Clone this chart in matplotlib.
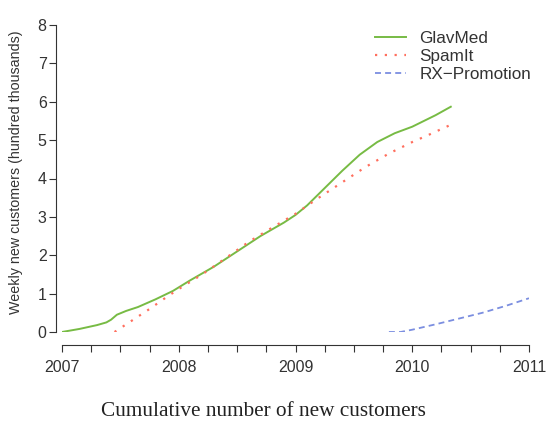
import matplotlib
matplotlib.use("Agg")
import matplotlib.pyplot as plt
import numpy as np

# Data (years, hundred thousands)
glav_x = [2007.0, 2007.15, 2007.3, 2007.38, 2007.42, 2007.47, 2007.55, 2007.65, 2007.8, 2007.95, 2008.1, 2008.3, 2008.5, 2008.7, 2008.9, 2009.0, 2009.1, 2009.25, 2009.4, 2009.55, 2009.7, 2009.85, 2010.0, 2010.1, 2010.2, 2010.33]
glav_y = [0.0, 0.08, 0.18, 0.25, 0.32, 0.45, 0.55, 0.65, 0.85, 1.07, 1.35, 1.7, 2.1, 2.5, 2.85, 3.05, 3.3, 3.75, 4.2, 4.62, 4.95, 5.18, 5.35, 5.5, 5.65, 5.87]

spam_x = [2007.45, 2007.6, 2007.75, 2007.9, 2008.0, 2008.2, 2008.4, 2008.6, 2008.8, 2009.0, 2009.2, 2009.4, 2009.6, 2009.8, 2010.0, 2010.15, 2010.33]
spam_y = [0.0, 0.3, 0.6, 0.92, 1.12, 1.5, 1.92, 2.35, 2.72, 3.08, 3.5, 3.9, 4.3, 4.65, 4.95, 5.15, 5.4]

rx_x = [2009.8, 2009.9, 2010.0, 2010.2, 2010.4, 2010.6, 2010.8, 2011.0]
rx_y = [0.0, 0.0, 0.06, 0.2, 0.35, 0.5, 0.68, 0.88]

x_ticks = [2007, 2008, 2009, 2010, 2011]
y_ticks = [0, 1, 2, 3, 4, 5, 6, 7, 8]

plt.rcParams['font.family'] = ['Liberation Sans', 'DejaVu Sans']

fig = plt.figure(figsize=(5.5, 4.32), dpi=100)
W, H = 550, 432
ax = fig.add_axes([62 / W, 1 - 332 / H, (529 - 62) / W, (332 - 25) / H])

ax.plot(glav_x, glav_y, color='#77bb44', lw=1.4, label='GlavMed')
ax.plot(spam_x, spam_y, color='#ff6f5e', lw=1.6, linestyle=(0, (1, 3.4)), label='SpamIt')
ax.plot(rx_x, rx_y, color='#7b8ee0', lw=1.3, linestyle=(0, (3.3, 2.3)), label='RX\u2212Promotion')

ax.set_xlim(2007, 2011)
ax.set_ylim(0, 8)
ax.set_xticks(x_ticks)
ax.set_xticklabels([str(t) for t in x_ticks])
ax.set_xticks(np.arange(2007, 2011.01, 0.25), minor=True)
ax.set_yticks(y_ticks)
ax.tick_params(axis='both', which='both', direction='out', length=5, width=0.8, colors='#333333', labelsize=11.5)
ax.tick_params(axis='x', which='minor', length=5)
ax.tick_params(axis='x', pad=6)
ax.tick_params(axis='y', pad=2)
for lab in ax.get_xticklabels() + ax.get_yticklabels():
    lab.set_color('#222222')

ax.spines['top'].set_visible(False)
ax.spines['right'].set_visible(False)
ax.spines['bottom'].set_position(('outward', 9))
ax.spines['left'].set_position(('outward', 4))
ax.spines['bottom'].set_color('#333333')
ax.spines['left'].set_color('#333333')
ax.patch.set_alpha(0)

ax.set_ylabel('Weekly new customers (hundred thousands)', fontsize=10.3, color='#333333')
ax.yaxis.set_label_coords(-0.084, 0.52)

fig.text(263 / W, 1 - 412 / H, 'Cumulative number of new customers', family='Liberation Serif',
         fontsize=15.3, ha='center', va='center', color='#222222')

leg = ax.legend(loc='upper left', bbox_to_anchor=(375 / W, 1 - 31 / H), bbox_transform=fig.transFigure,
                frameon=False, fontsize=12.3, handlelength=1.8, labelspacing=0.17,
                handletextpad=0.8, borderaxespad=0, borderpad=0)
for t in leg.get_texts():
    t.set_color('#333333')

fig.savefig('out.png', dpi=100, facecolor='white')
